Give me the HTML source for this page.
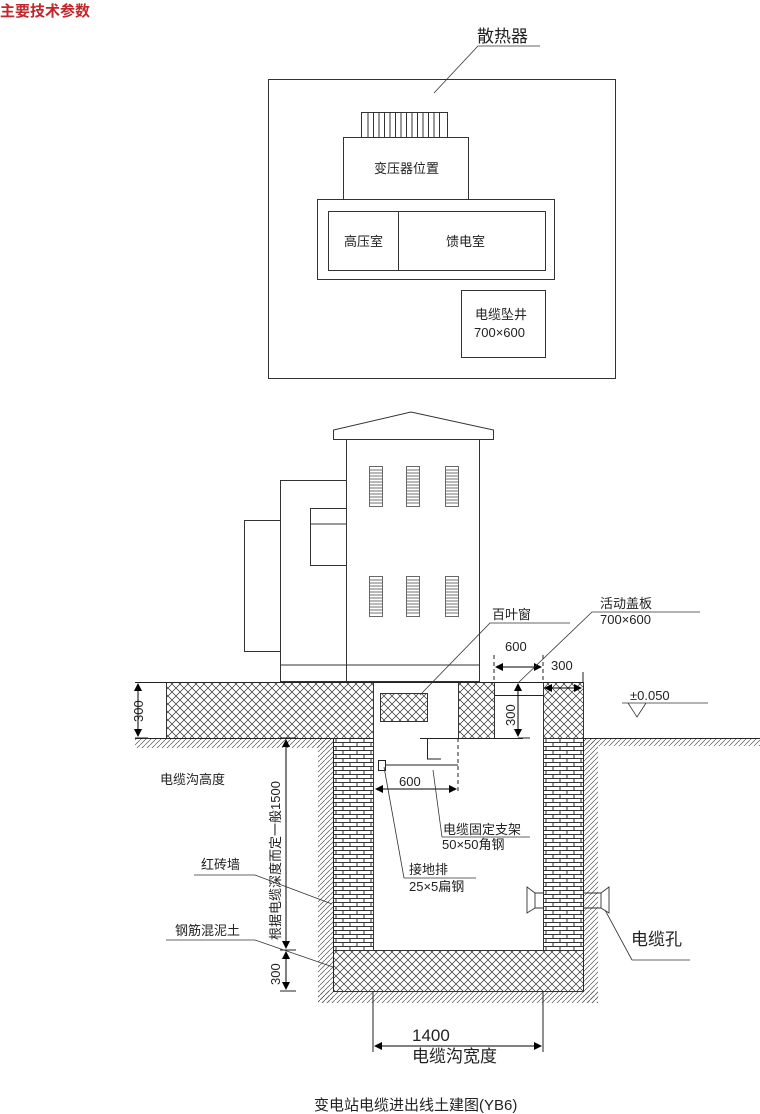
<!DOCTYPE html>
<html><head><meta charset="utf-8"><style>
body{margin:0;background:#fff}
svg{display:block}
text{font-family:"Liberation Sans","Noto Sans CJK SC",sans-serif;fill:#222}
</style></head><body>
<svg width="760" height="1114" viewBox="0 0 760 1114" xmlns="http://www.w3.org/2000/svg">
<defs>
<pattern id="cross" width="8" height="8" patternUnits="userSpaceOnUse">
<path d="M0,0L8,8M8,0L0,8" stroke="#333" stroke-width="0.7"/>
</pattern>
<pattern id="brick" width="14" height="8" patternUnits="userSpaceOnUse" x="333" y="738">
<rect width="14" height="8" fill="#fff"/>
<path d="M0,0.5H14M0,4.5H14M3,0.5V4.5M10,4.5V8" stroke="#333" stroke-width="1"/>
</pattern>
<pattern id="earth" width="5" height="5" patternUnits="userSpaceOnUse">
<path d="M0,5L5,0" stroke="#555" stroke-width="0.7"/>
</pattern>
<marker id="ar" markerWidth="8" markerHeight="8" refX="7" refY="4" orient="auto-start-reverse" markerUnits="userSpaceOnUse"><path d="M0,0L8,4L0,8z" fill="#000"/></marker>
</defs>
<text x="0" y="16" font-size="15" font-weight="bold" style="fill:#c0282c">主要技术参数</text>

<!-- plan -->
<g stroke="#333" fill="none" stroke-width="1">
<rect x="268.5" y="79.5" width="347" height="299"/>
<rect x="361.5" y="112.5" width="86" height="25"/>
<path d="M368,113V137M373.5,113V137M379,113V137M384.5,113V137M390,113V137M395.5,113V137M401,113V137M406.5,113V137M412,113V137M417.5,113V137M423,113V137M428.5,113V137M434,113V137M439.5,113V137"/>
<rect x="343.5" y="137.5" width="125" height="62"/>
<rect x="317.5" y="199.5" width="237" height="80"/>
<rect x="328.5" y="211.5" width="217" height="59"/>
<path d="M398.5,211V270"/>
<rect x="461.5" y="290.5" width="84" height="67"/>
<path d="M478,46H540M478,46L434,93" stroke-width="0.8"/>
</g>
<text x="477" y="42" font-size="17">散热器</text>
<text x="374" y="173" font-size="13">变压器位置</text>
<text x="344" y="246" font-size="13">高压室</text>
<text x="446" y="246" font-size="13">馈电室</text>
<text x="475" y="319" font-size="13">电缆坠井</text>
<text x="474" y="337" font-size="13">700×600</text>

<!-- building -->
<g stroke="#333" fill="none" stroke-width="1">
<path d="M333.5,439.5V430L411,412L493.5,430V439.5Z"/>
<rect x="346.5" y="439.5" width="133" height="242"/>
<path d="M346,665H479"/>
<rect x="280.5" y="480.5" width="66" height="201"/>
<path d="M280,665H346"/>
<rect x="244.5" y="520.5" width="36" height="131"/>
<rect x="310.5" y="508.5" width="36" height="57"/>
<path d="M310,524H346"/>
</g>
<g stroke="#444" fill="none" stroke-width="0.8">
<g id="lv"><rect x="369.5" y="466.5" width="13" height="40"/>
<path d="M370,470H382M370,473H382M370,476H382M370,479H382M370,482H382M370,485H382M370,488H382M370,491H382M370,494H382M370,497H382M370,500H382M370,503H382"/></g>
<use href="#lv" x="37"/><use href="#lv" x="76"/>
<use href="#lv" y="110"/><use href="#lv" x="37" y="110"/><use href="#lv" x="76" y="110"/>
</g>

<!-- earth hatch -->
<rect x="135" y="738" width="198" height="10" fill="url(#earth)"/>
<rect x="318" y="738" width="15" height="265" fill="url(#earth)"/>
<rect x="318" y="991" width="280" height="12" fill="url(#earth)"/>
<rect x="583" y="738" width="15" height="265" fill="url(#earth)"/>
<rect x="583" y="738" width="212" height="8" fill="url(#earth)"/>
<rect x="135" y="738" width="198" height="10" fill="none"/>

<!-- slab and walls -->
<g stroke="#333" stroke-width="1">
<rect x="166.5" y="682.5" width="207" height="56" fill="url(#cross)"/>
<rect x="380.5" y="693.5" width="47" height="28" fill="url(#cross)"/>
<rect x="458.5" y="682.5" width="36" height="56" fill="url(#cross)"/>
<rect x="543.5" y="682.5" width="40" height="56" fill="url(#cross)"/>
<rect x="333.5" y="738.5" width="40" height="212" fill="url(#brick)"/>
<rect x="543.5" y="738.5" width="40" height="212" fill="url(#brick)"/>
<rect x="333.5" y="950.5" width="250" height="41" fill="url(#cross)"/>
</g>
<g stroke="#222" fill="none" stroke-width="1">
<path d="M135,682.5H583M135,738.5H373M420,738.5H523M583,738.5H760M494,695.5H543"/>
<path d="M333.5,738V991M583.5,738V991"/>
<path d="M427.5,738V759H441"/>
<rect x="378.5" y="760.5" width="7" height="10"/>
<path d="M385,765H458M458,738V792" stroke-dasharray="4,3"/>
<path d="M385,765H458"/>
<path d="M494,655V682M543,655V682" stroke-dasharray="4,3"/>
<path d="M583,672V682"/>
<path d="M373,991V1052M543,991V1052"/>
<path d="M518,738H530M280,738H296M280,950H296M280,991H296M135,738H148"/>
</g>
<!-- cable hole -->
<g stroke="#333" fill="none" stroke-width="0.9">
<path d="M527,887L535,893V908L527,913Z"/>
<path d="M535,893H543M535,908H543M583,893H601M583,908H601"/>
<path d="M609,887L601,893V908L609,913Z"/>
</g>
<!-- dims -->
<g stroke="#000" stroke-width="1" fill="none">
<path d="M138,684V736" marker-start="url(#ar)" marker-end="url(#ar)"/>
<path d="M286,740V948" marker-start="url(#ar)" marker-end="url(#ar)"/>
<path d="M286,952V989" marker-start="url(#ar)" marker-end="url(#ar)"/>
<path d="M496,667H541" marker-start="url(#ar)" marker-end="url(#ar)"/>
<path d="M545,688H581" marker-start="url(#ar)" marker-end="url(#ar)"/>
<path d="M518,684V736" marker-start="url(#ar)" marker-end="url(#ar)"/>
<path d="M376,789H456" marker-start="url(#ar)" marker-end="url(#ar)"/>
<path d="M375,1046H541" marker-start="url(#ar)" marker-end="url(#ar)"/>
</g>
<!-- leaders -->
<g stroke="#333" stroke-width="0.8" fill="none">
<path d="M570,623H490L420,695"/>
<path d="M700,612H592L518,683"/>
<path d="M622,703H708M628,703L637,717L646,703"/>
<path d="M442,837H530M442,837L433,770"/>
<path d="M404,878H476M404,878L384,767"/>
<path d="M194,875H255L332,904"/>
<path d="M166,940H255L333,967"/>
<path d="M632,960H690M632,960L605,910"/>
</g>
<g font-size="13">
<text x="492" y="619">百叶窗</text>
<text x="600" y="608">活动盖板</text>
<text x="600" y="624">700×600</text>
<text x="505" y="651">600</text>
<text x="551" y="670">300</text>
<text x="630" y="700">±0.050</text>
<text x="399" y="786">600</text>
<text x="443" y="834">电缆固定支架</text>
<text x="442" y="849">50×50角钢</text>
<text x="409" y="874">接地排</text>
<text x="409" y="891">25×5扁钢</text>
<text x="160" y="784">电缆沟高度</text>
<text x="201" y="869">红砖墙</text>
<text x="175" y="935">钢筋混泥土</text>
<text transform="translate(143,722) rotate(-90)">300</text>
<text transform="translate(515,726) rotate(-90)">300</text>
<text transform="translate(280,985) rotate(-90)">300</text>
<text transform="translate(280,940) rotate(-90)">根据电缆深度而定一般1500</text>
</g>
<text x="631" y="945" font-size="17">电缆孔</text>
<text x="412" y="1041" font-size="17">1400</text>
<text x="412" y="1062" font-size="17">电缆沟宽度</text>
<text x="314" y="1110" font-size="15">变电站电缆进出线土建图(YB6)</text>
</svg>
</body></html>
